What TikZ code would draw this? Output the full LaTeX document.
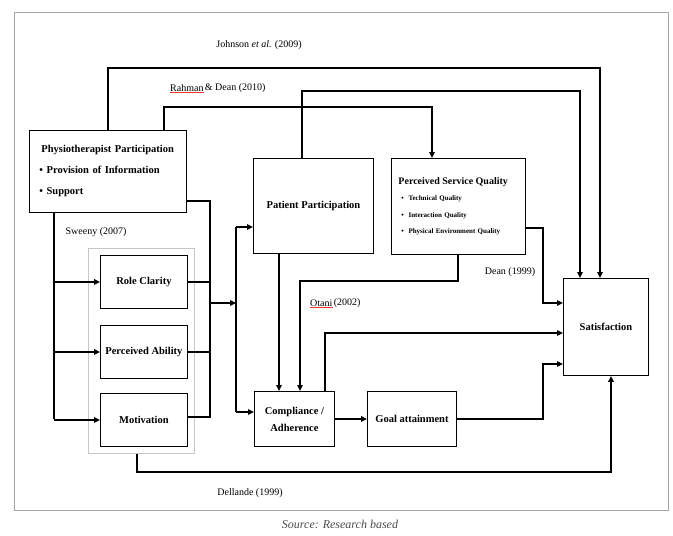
\documentclass[tikz,border=0pt]{standalone}
\usepackage{fontspec}
\setmainfont{Liberation Serif}
\usetikzlibrary{arrows.meta}
\begin{document}
\begin{tikzpicture}[x=1pt,y=-1pt,
  box/.style={draw, line width=0.9pt, fill=white, inner sep=0pt, anchor=north west,
    font=\fontsize{10.5}{17}\selectfont\bfseries, align=center},
  conn/.style={line width=1.4pt, -{Triangle[length=6pt,width=5.5pt]}},
  wire/.style={line width=1.4pt},
  lbl/.style={font=\fontsize{10}{12}\selectfont, inner sep=1pt},
]
\useasboundingbox (0,0) rectangle (673,536);
\draw[gray!70, line width=1pt] (14,12) rectangle (668,510);
\node[font=\fontsize{12}{14}\selectfont\itshape, text=gray!60!black] (src) at (340,524) {Source: Research based};

% group box
\node[draw=gray!45, line width=1pt, minimum width=106pt, minimum height=205pt, anchor=north west, inner sep=0pt] (grp) at (88,248) {};

% boxes
\node[box, minimum width=157pt, minimum height=82pt, align=left, text width=137pt, inner xsep=10pt,
  font=\fontsize{10.5}{21}\selectfont\bfseries] (phys) at (29,130)
  {\hspace*{2pt}Physiotherapist Participation\\ \textbullet\ Provision of Information\\ \textbullet\ Support};
\node[box, minimum width=120pt, minimum height=95pt] (pp) at (253,158) {Patient Participation};
\node[box, minimum width=134pt, minimum height=96pt, align=left, text width=126pt, inner xsep=4pt,
  font=\fontsize{7}{16.5}\selectfont\bfseries] (psq) at (391,158)
  {{\fontsize{10}{12}\selectfont\hspace*{3pt}Perceived Service Quality}\\
   \hspace*{6pt}\textbullet\ \ Technical Quality\\
   \hspace*{6pt}\textbullet\ \ Interaction Quality\\
   \hspace*{6pt}\textbullet\ \ Physical Environment Quality};
\node[box, minimum width=85pt, minimum height=97pt] (sat) at (563,278) {Satisfaction};
\node[box, minimum width=89pt, minimum height=55pt] (goal) at (367,391) {Goal attainment};
\node[box, minimum width=80pt, minimum height=55pt] (comp) at (254,391) {Compliance /\\ Adherence};
\node[box, minimum width=87pt, minimum height=53pt] (rc) at (100,255) {Role Clarity};
\node[box, minimum width=87pt, minimum height=53pt] (pa) at (100,325) {Perceived Ability};
\node[box, minimum width=87pt, minimum height=53pt] (mot) at (100,393) {Motivation};

% corner coordinates
\coordinate (jA) at (108,68);  \coordinate (jB) at (600,68);
\coordinate (rA) at (164,107); \coordinate (rB) at (432,107);
\coordinate (pA) at (302,91);  \coordinate (pB) at (580,91);
\coordinate (bT) at (210,201); \coordinate (bB) at (210,417); \coordinate (bM) at (210,303);
\coordinate (vM) at (236,303); \coordinate (vT) at (236,227); \coordinate (vB) at (236,412);
\coordinate (lA) at (54,419);
\coordinate (cA) at (279,300);
\coordinate (oA) at (458,281); \coordinate (oB) at (300,281);
\coordinate (dA) at (543,228); \coordinate (dB) at (543,303);
\coordinate (eA) at (325,333);
\coordinate (gA) at (543,419); \coordinate (gB) at (543,364);
\coordinate (hA) at (137,472); \coordinate (hB) at (611,472);

% connectors
\draw[conn] (jA |- phys.north) -- (jA) -- (jB) -- (jB |- sat.north);
\draw[conn] (rA |- phys.north) -- (rA) -- (rB) -- (rB |- psq.north);
\draw[conn] (pA |- pp.north) -- (pA) -- (pB) -- (pB |- sat.north);
\draw[wire] (bT -| phys.east) -- (bT) -- (bB) -- (bB -| mot.east);
\draw[wire] (rc.east) -- (rc.east -| bT);
\draw[wire] (pa.east) -- (pa.east -| bT);
\draw[conn] (bM) -- (vM);
\draw[wire] (vT) -- (vB);
\draw[conn] (vT) -- (vT -| pp.west);
\draw[conn] (vB) -- (vB -| comp.west);
\draw[wire] (lA |- phys.south) -- (lA);
\draw[conn] (lA |- rc.west) -- (rc.west);
\draw[conn] (lA |- pa.west) -- (pa.west);
\draw[conn] (lA |- mot.west) -- (mot.west);
\draw[conn] (cA |- pp.south) -- (cA |- comp.north);
\draw[conn] (oA |- psq.south) -- (oA) -- (oB) -- (oB |- comp.north);
\draw[conn] (dA -| psq.east) -- (dA) -- (dB) -- (dB -| sat.west);
\draw[conn] (eA |- comp.north) -- (eA) -- (eA -| sat.west);
\draw[conn] (comp.east) -- (goal.west);
\draw[conn] (goal.east) -- (goal.east -| gA) -- (gB) -- (gB -| sat.west);
\draw[conn] (hA |- grp.south) -- (hA) -- (hB) -- (hB |- sat.south);

% labels
\node[lbl] (ljoh) at (259,45) {Johnson \textit{et al.} (2009)};
\node[lbl, anchor=west, inner xsep=0pt] (lrah) at (170,88) {Rahman};
\node[lbl, anchor=west] (lrah2) at (lrah.east) {\& Dean (2010)};
\draw[red!80, line width=0.6pt] (lrah.south west) -- (lrah.south east);
\node[lbl] (lswe) at (96,232) {Sweeny (2007)};
\node[lbl, anchor=west, inner xsep=0pt] (lota) at (310,303) {Otani};
\node[lbl, anchor=west] (lota2) at (lota.east) {(2002)};
\draw[red!80, line width=0.6pt] (lota.south west) -- (lota.south east);
\node[lbl] (ldea) at (510,272) {Dean (1999)};
\node[lbl] (ldel) at (250,493) {Dellande (1999)};
\end{tikzpicture}
\end{document}
